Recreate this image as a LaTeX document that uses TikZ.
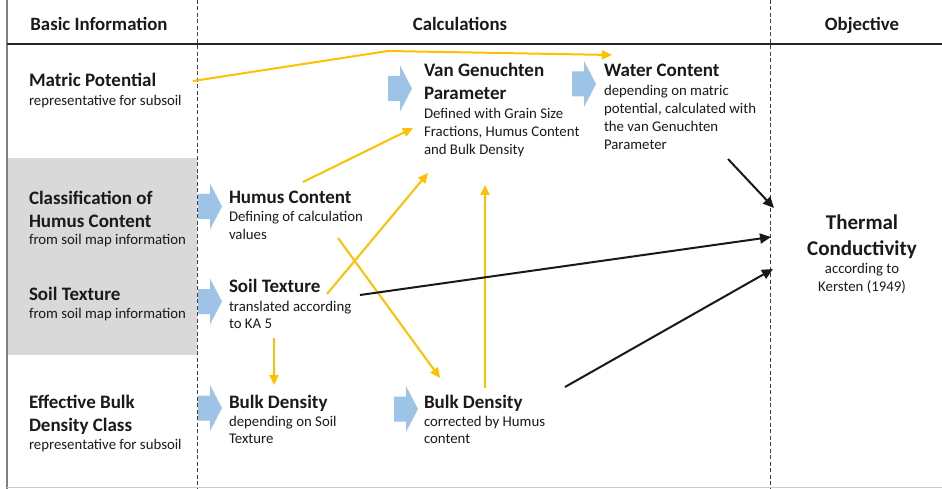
\documentclass[tikz,border=0pt]{standalone}
\usepackage{fontspec}
\setmainfont{Carlito}
\usetikzlibrary{arrows.meta}
\definecolor{ylw}{HTML}{FFC000}
\definecolor{lblue}{HTML}{9DC3E6}
\definecolor{band}{HTML}{D9D9D9}
\definecolor{txt}{HTML}{1A1A1A}
\begin{document}
\begin{tikzpicture}[x=1pt,y=-1pt,
  every node/.style={inner sep=0pt, outer sep=0pt, text=txt},
  ttl/.style={anchor=base west, align=left, font=\bfseries\fontsize{19}{23}\selectfont},
  sub/.style={anchor=base west, align=left, font=\fontsize{14.8}{17.8}\selectfont},
  hdr/.style={anchor=base, font=\bfseries\fontsize{18.8}{21}\selectfont},
  yl/.style={draw=ylw, line width=2pt, -{Triangle[length=10pt,width=9pt]}},
  bl/.style={draw=black!90, line width=2pt, -{Triangle[length=11pt,width=10pt]}},
  dsh/.style={draw=black!75, line width=0.9pt, dash pattern=on 4pt off 2.5pt},
  barrow/.pic={\fill[lblue] (0,-12.5) -- (12,-12.5) -- (12,-23) -- (24,0) -- (12,23) -- (12,12.5) -- (0,12.5) -- cycle;}
]
\useasboundingbox (0,0) rectangle (942,489);
\fill[white] (0,0) rectangle (942,489);
\fill[band] (7,158) rectangle (197,355);
\draw[black!50, line width=2pt] (7,0) -- (7,489);
\draw[black!20, line width=1pt] (7,487.5) -- (942,487.5);
\draw[black!85, line width=2pt] (7,44) -- (942,44);

% blue block arrows
\pic at (198,206.5) {barrow};
\pic at (198,301.5) {barrow};
\pic at (198,408) {barrow};
\pic at (388,88.5) {barrow};
\pic at (394,409) {barrow};
\pic at (572,84) {barrow};

\draw[dsh] (197,0) -- (197,489);
\draw[dsh] (770,0) -- (770,489);

% headers
\node[hdr] (h1) at (99,31) {Basic Information};
\node[hdr] (h2) at (460,31) {Calculations};
\node[hdr] (h3) at (862,31) {Objective};

% basic information (base anchor = last line's baseline)
\node[ttl] (mp) at (29,87) {Matric Potential};
\node[sub] (mps) at (29,106) {representative for subsoil};
\node[ttl] (chc) at (29,227) {Classification of\\Humus Content};
\node[sub] (chcs) at (29,244) {from soil map information};
\node[ttl] (st) at (29,300) {Soil Texture};
\node[sub] (sts) at (29,318) {from soil map information};
\node[ttl] (eb) at (29,431) {Effective Bulk\\Density Class};
\node[sub] (ebs) at (29,449) {representative for subsoil};

% calculations
\node[ttl] (hc) at (229,204) {Humus Content};
\node[sub] (hcs) at (229,239.8) {Defining of calculation\\values};
\node[ttl] (stm) at (229,292) {Soil Texture};
\node[sub] (stms) at (229,328.8) {translated according\\to KA 5};
\node[ttl] (bda) at (229,408) {Bulk Density};
\node[sub] (bdas) at (229,443.8) {depending on Soil\\Texture};
\node[ttl] (vg) at (424,100) {Van Genuchten\\Parameter};
\node[sub] (vgs) at (424,154.6) {Defined with Grain Size\\Fractions, Humus Content\\and Bulk Density};
\node[ttl] (wc) at (604,77) {Water Content};
\node[sub] (wcs) at (604,149.4) {depending on matric\\potential, calculated with\\the van Genuchten\\Parameter};
\node[ttl] (bdb) at (424,408) {Bulk Density};
\node[sub] (bdbs) at (424,443.8) {corrected by Humus\\content};

% objective
\node[anchor=base, align=center, font=\bfseries\fontsize{21}{26}\selectfont] (tc) at (862,255) {Thermal\\Conductivity};
\node[anchor=base, align=center, font=\fontsize{14.8}{18.5}\selectfont] (tcs) at (862,291.5) {according to\\Kersten (1949)};

% connector ends
\coordinate (mp-e) at (193,81);
\coordinate (mp-k) at (388,51);
\coordinate (wc-in) at (612,55);
\coordinate (hc-o) at (303,182);
\coordinate (vg-i1) at (413,128);
\coordinate (st-o) at (327,294);
\coordinate (vg-i2) at (428,173);
\coordinate (hc-o2) at (338,238);
\coordinate (bdb-i) at (440,378);
\coordinate (st-o2) at (274,338);
\coordinate (bda-i) at (274,385);
\coordinate (bdb-o) at (485,388);
\coordinate (vg-i3) at (485,185);
\coordinate (wc-o) at (728,159);
\coordinate (tc-i1) at (774,208);
\coordinate (st-o3) at (360,295);
\coordinate (tc-i2) at (771,237);
\coordinate (bdb-o2) at (565,387);
\coordinate (tc-i3) at (773,269);

\draw[yl] (mp-e) -- (mp-k) -- (wc-in);
\draw[yl] (hc-o) -- (vg-i1);
\draw[yl] (st-o) -- (vg-i2);
\draw[yl] (hc-o2) -- (bdb-i);
\draw[yl] (st-o2) -- (bda-i);
\draw[yl] (bdb-o) -- (vg-i3);
\draw[bl] (wc-o) -- (tc-i1);
\draw[bl] (st-o3) -- (tc-i2);
\draw[bl] (bdb-o2) -- (tc-i3);
\end{tikzpicture}
\end{document}
